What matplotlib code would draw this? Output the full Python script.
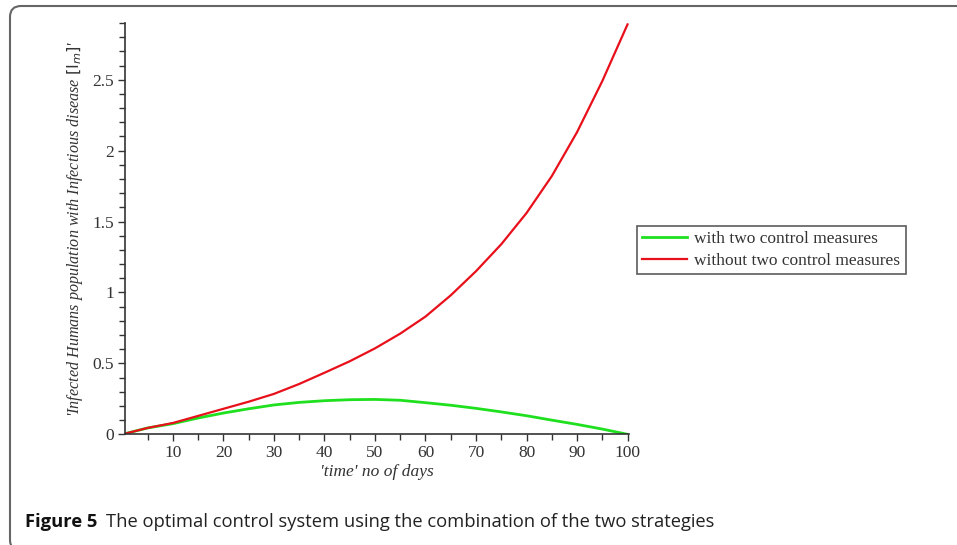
import matplotlib
matplotlib.use("Agg")
import matplotlib.pyplot as plt
import matplotlib.transforms as mtransforms
from matplotlib.patches import FancyBboxPatch
from matplotlib.ticker import MultipleLocator

# values (every 5 days)
days = [0, 5, 10, 15, 20, 25, 30, 35, 40, 45, 50,
        55, 60, 65, 70, 75, 80, 85, 90, 95, 100]
with_control = [0.0, 0.045, 0.075, 0.115, 0.15, 0.18, 0.207, 0.225, 0.237, 0.244, 0.246,
                0.24, 0.223, 0.205, 0.183, 0.158, 0.131, 0.10, 0.07, 0.037, 0.0]
without_control = [0.0, 0.045, 0.08, 0.13, 0.18, 0.23, 0.285, 0.355, 0.434, 0.515, 0.606,
                   0.71, 0.83, 0.98, 1.15, 1.34, 1.56, 1.82, 2.13, 2.49, 2.89]
labels = ["with two control measures", "without two control measures"]
caption_bold = "Figure 5"
caption_text = "The optimal control system using the combination of the two strategies"

serif = ["Liberation Serif", "DejaVu Serif"]

fig = plt.figure(figsize=(9.57, 5.45), dpi=100)
ax = fig.add_axes([0.1306, 0.2031, 0.5267, 0.7547])

ax.plot(days, with_control, color="#1fe01f", lw=2.0, label=labels[0])
ax.plot(days, without_control, color="#e8101a", lw=1.6, label=labels[1])

ax.set_xlim(0.5, 100.3)
ax.set_ylim(0, 2.9)
ax.xaxis.set_minor_locator(MultipleLocator(5))
ax.yaxis.set_minor_locator(MultipleLocator(0.1))
ax.set_xticks([10, 20, 30, 40, 50, 60, 70, 80, 90, 100])
ax.set_yticks([0, 0.5, 1, 1.5, 2, 2.5])
ax.set_yticklabels(["0", "0.5", "1", "1.5", "2", "2.5"])

for s in ["top", "right"]:
    ax.spines[s].set_visible(False)
for s in ["left", "bottom"]:
    ax.spines[s].set_color("#333333")
    ax.spines[s].set_linewidth(1.2)

ax.tick_params(which="major", direction="out", length=5, width=1, color="#333333",
               labelsize=12.5, labelcolor="#333333", pad=3)
ax.tick_params(which="minor", direction="out", length=4, width=1, color="#333333")
for t in ax.get_xticklabels() + ax.get_yticklabels():
    t.set_family(serif)

ax.set_xlabel("'time' no of days", family=serif, style="italic", fontsize=12.5,
              color="#333333", labelpad=2)
ax.set_ylabel(r"'Infected Humans population with Infectious disease $\left[\mathrm{I}_m\right]$'",
              family=serif, style="italic", fontsize=11.6, color="#333333", labelpad=5)

leg = fig.legend(loc="upper left", bbox_to_anchor=(637 / 957, 1 - 226 / 545),
                 borderaxespad=0, frameon=True, fancybox=False, shadow=False,
                 prop={"family": serif, "size": 12.5}, handlelength=2.6,
                 handletextpad=0.4, borderpad=0.3, labelspacing=0.3)
leg.get_frame().set_edgecolor("#333333")
leg.get_frame().set_linewidth(1.2)
for t in leg.get_texts():
    t.set_color("#333333")

# rounded frame around the figure
frame = FancyBboxPatch((10, -6), 990, 545, boxstyle="round,pad=0,rounding_size=11",
                       transform=mtransforms.IdentityTransform(),
                       facecolor="none", edgecolor="#666666", lw=1.5)
fig.add_artist(frame)

cap_font = ["Open Sans", "DejaVu Sans"]
t1 = fig.text(25 / 957, 1 - 522 / 545, caption_bold, family=cap_font, weight="bold",
              fontsize=13.2, va="center", ha="left", color="#111111")
fig.canvas.draw()
bb = t1.get_window_extent(fig.canvas.get_renderer())
fig.text((bb.x1 + 9) / 957, 1 - 522 / 545, caption_text, family=cap_font,
         fontsize=13.2, va="center", ha="left", color="#222222")

fig.savefig("out.png", dpi=100)
